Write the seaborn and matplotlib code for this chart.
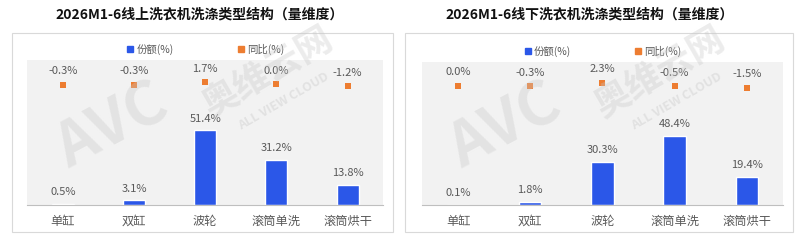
import matplotlib
matplotlib.use("Agg")
import matplotlib.pyplot as plt
import seaborn as sns
import pandas as pd
from matplotlib.lines import Line2D
from matplotlib.patches import Rectangle

sns.set_style("white")
plt.rcParams['font.family'] = ['Noto Sans CJK SC', 'DejaVu Sans']

categories = ["单缸", "双缸", "波轮", "滚筒单洗", "滚筒烘干"]
online_share = [0.5, 3.1, 51.4, 31.2, 13.8]
online_yoy = [-0.3, -0.3, 1.7, 0.0, -1.2]
offline_share = [0.1, 1.8, 30.3, 48.4, 19.4]
offline_yoy = [0.0, -0.3, 2.3, -0.5, -1.5]
titles = ["2026M1-6线上洗衣机洗涤类型结构（量维度）", "2026M1-6线下洗衣机洗涤类型结构（量维度）"]

BLUE = "#2b57e8"
ORANGE = "#ed7d31"
TXT = "#595959"

fig = plt.figure(figsize=(8, 2.42), dpi=100)

panels = [
    dict(share=online_share, yoy=online_yoy, title=titles[0],
         ax=[0.034, 0.153, 0.445, 0.599], frame=[0.015, 0.041, 0.476, 0.822], cx=0.25),
    dict(share=offline_share, yoy=offline_yoy, title=titles[1],
         ax=[0.5275, 0.153, 0.451, 0.592], frame=[0.506, 0.041, 0.485, 0.822], cx=0.737),
]

for p in panels:
    fig.patches.append(Rectangle((p["frame"][0], p["frame"][1]), p["frame"][2], p["frame"][3],
                                 transform=fig.transFigure, fill=False, edgecolor="#d9d9d9", lw=0.8))
    ax = fig.add_axes(p["ax"])
    ax.set_facecolor("#f2f2f2")
    df = pd.DataFrame({"cat": categories, "share": p["share"], "yoy": p["yoy"]})
    sns.barplot(data=df, x="cat", y="share", color=BLUE, width=0.31, saturation=1, ax=ax)
    ax.set_ylim(0, 100)
    for i, v in enumerate(p["share"]):
        ax.annotate(f"{v:.1f}%", (i, v), xytext=(0, 5), textcoords="offset points",
                    ha="center", va="bottom", fontsize=8, color=TXT)
    ax2 = ax.twinx()
    sns.scatterplot(data=df, x="cat", y="yoy", marker="s", color=ORANGE, s=14,
                    linewidth=0, ax=ax2)
    ax2.set_ylim(-89, 18)
    for i, v in enumerate(p["yoy"]):
        ax2.annotate(f"{v:.1f}%", (i, v), xytext=(0, 6), textcoords="offset points",
                     ha="center", va="bottom", fontsize=8, color=TXT)
    for a in (ax, ax2):
        a.set_xlabel("")
        a.set_ylabel("")
        a.set_yticks([])
        for s in ["top", "left", "right", "bottom"]:
            a.spines[s].set_visible(False)
    ax.spines["bottom"].set_visible(True)
    ax.spines["bottom"].set_color("#bfbfbf")
    ax.spines["bottom"].set_linewidth(0.8)
    ax.set_xticks(range(len(categories)))
    ax.set_xticklabels(categories, fontsize=8.8, color=TXT)
    ax.tick_params(axis="x", length=0, pad=7)
    ax.set_xticks([i - 0.5 for i in range(len(categories) + 1)], minor=True)
    ax.tick_params(axis="x", which="minor", length=4, color="#bfbfbf", width=0.8)
    ax.set_xlim(-0.5, 4.5)
    ax2.set_xlim(-0.5, 4.5)

    handles = [Line2D([], [], marker="s", color=BLUE, linestyle="", markersize=4),
               Line2D([], [], marker="s", color=ORANGE, linestyle="", markersize=4)]
    ax.legend(handles, ["份额(%)", "同比(%)"], loc="lower center", bbox_to_anchor=(0.5, 1.0),
              ncol=2, frameon=False, fontsize=7.5, labelcolor=TXT, columnspacing=6,
              handletextpad=0.2, handlelength=0.8, borderaxespad=0.1)

    fig.text(p["cx"], 0.94, p["title"], ha="center", va="center", fontsize=10,
             fontweight="bold", color="#111111")

    # watermark
    fx = p["frame"][0]
    fig.text(fx + 0.125, 0.48, "AVC", fontsize=44, fontweight="bold", style="italic",
             color="#c8c8c8", alpha=0.35, rotation=28, ha="center", va="center")
    fig.text(fx + 0.32, 0.70, "奥维云网", fontsize=26, fontweight="bold",
             color="#c8c8c8", alpha=0.35, rotation=30, ha="center", va="center")
    fig.text(fx + 0.34, 0.58, "ALL VIEW CLOUD", fontsize=9, fontweight="bold",
             color="#c8c8c8", alpha=0.4, rotation=30, ha="center", va="center")

fig.savefig("out.png", dpi=100)
